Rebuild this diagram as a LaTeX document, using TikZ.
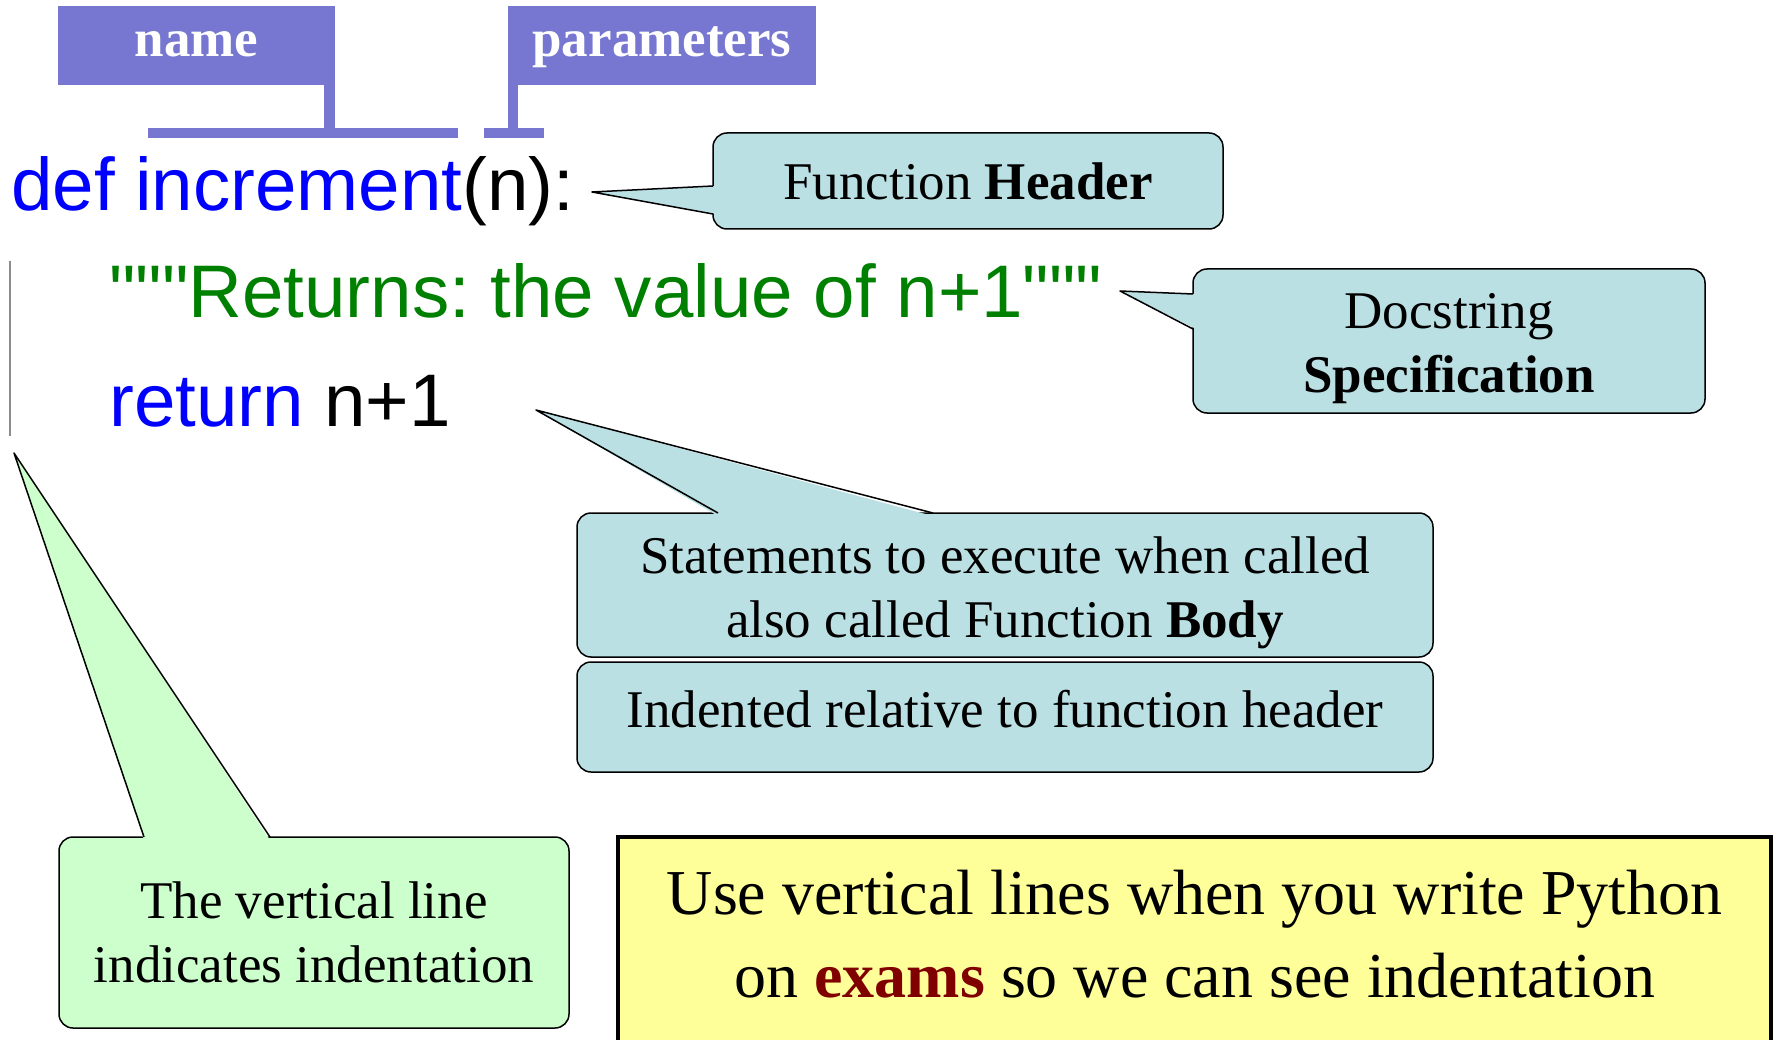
\documentclass[tikz,border=0pt]{standalone}
\usepackage{fontspec}
\setmainfont{Liberation Serif}
\newfontfamily\codefont{Liberation Sans}
\usetikzlibrary{positioning}
\frenchspacing

\definecolor{codeblue}{RGB}{0,0,255}
\definecolor{codegreen}{RGB}{0,128,0}
\definecolor{labelbg}{RGB}{119,119,209}
\definecolor{calloutbg}{RGB}{187,224,227}
\definecolor{notegreen}{RGB}{204,255,204}
\definecolor{noteyellow}{RGB}{255,255,153}
\definecolor{examred}{RGB}{128,0,0}
\definecolor{vline}{RGB}{140,140,140}

\begin{document}
\begin{tikzpicture}[x=1pt,y=-1pt,
    tagbox/.style={fill=labelbg,text=white,inner sep=0pt,text height=24pt,text depth=2pt,
                   minimum height=79pt,font=\fontsize{53}{60}\selectfont\bfseries},
    codeline/.style={anchor=base west,inner sep=0pt,font=\codefont\fontsize{74.5}{80}\selectfont},
    callout/.style={draw,line width=1.5pt,rounded corners=14pt,fill=calloutbg,align=center,
                    inner sep=0pt,font=\fontsize{53}{64}\selectfont},
    tail/.style={draw,line width=1.5pt,line join=round}]
\useasboundingbox (0,0) rectangle (1777,1040);

% tags over the header
\node[tagbox,minimum width=277pt] (nametag) at (196.5,45.5) {name};
\node[tagbox,minimum width=308pt] (paramtag) at (662,45.5) {parameters};
\fill[labelbg] (324,84) rectangle (335,128);
\fill[labelbg] (148,128) rectangle (458,138);
\fill[labelbg] (508,84) rectangle (518,128);
\fill[labelbg] (484,128) rectangle (544,138);

% the code
\node[codeline] (defline) at (11,211) {\textcolor{codeblue}{def increment}(n):};
\node[codeline,text=codegreen] (docline) at (109,318) {"""Returns: the value of n+1"""};
\node[codeline] (retline) at (109,426) {\textcolor{codeblue}{return} n+1};
\draw[vline,line width=2pt] (10,261) -- (10,436);

% header
\node[callout,minimum width=510pt,minimum height=96pt] (hdrnote) at (968,181) {Function \textbf{Header}};
\coordinate (hdrtip) at (592,192);
\fill[calloutbg] (hdrtip) -- (716,186) -- (716,214) -- cycle;
\draw[tail] (713,186) -- (hdrtip) -- (713,214);

% docstring
\node[callout,minimum width=512pt,minimum height=144pt] (docnote) at (1449,341)
    {\rule{0pt}{50pt}Docstring\\ \textbf{Specification}};
\coordinate (doctip) at (1120,291);
\fill[calloutbg] (doctip) -- (1196,294) -- (1196,329) -- cycle;
\draw[tail] (1193,294) -- (doctip) -- (1193,329);

% body
\node[callout,minimum width=856pt,minimum height=144pt] (bodynote) at (1005,585)
    {\rule{0pt}{52pt}Statements to execute when called\\ also called Function \textbf{Body}};
\coordinate (bodytip) at (536,410);
\fill[calloutbg] (bodytip) -- (718,516) -- (933,516) -- cycle;
\draw[tail] (718,513) -- (bodytip) -- (933,513);
\node[callout,minimum width=856pt,minimum height=110pt] (indentnote) at (1005,717)
    {Indented relative to function header\rule[-16pt]{0pt}{0pt}};

% vertical line
\node[callout,fill=notegreen,minimum width=510pt,minimum height=191pt] (vlinenote) at (314,932.5)
    {The vertical line\\ indicates indentation};
\coordinate (vlinetip) at (14,453);
\fill[notegreen] (vlinetip) -- (144,840) -- (270,840) -- cycle;
\draw[tail] (144,837) -- (vlinetip) -- (270,837);

% exams
\node[fill=noteyellow,inner sep=0pt,align=center,minimum width=1153pt,minimum height=203pt,
      anchor=north west,font=\fontsize{64}{83}\selectfont] (examnote) at (618,837)
    {Use vertical lines when you write Python\\ on \textcolor{examred}{\textbf{exams}} so we can see indentation\rule[-10pt]{0pt}{0pt}};
\draw[line width=4pt] (examnote.south west) |- (examnote.north east) -- (examnote.south east);
\end{tikzpicture}
\end{document}
